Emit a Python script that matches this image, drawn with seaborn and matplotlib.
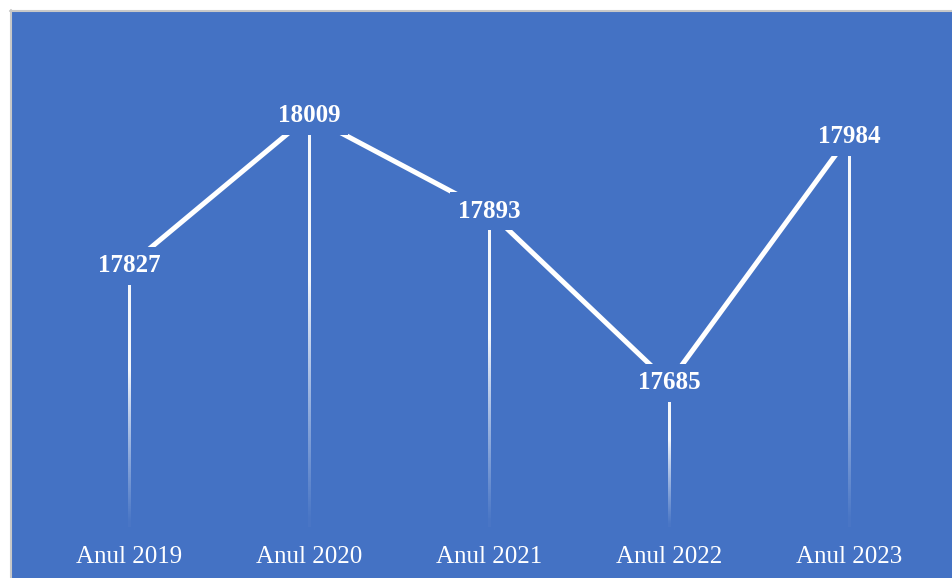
import numpy as np
import pandas as pd
import matplotlib.pyplot as plt
import seaborn as sns
from matplotlib.patches import Rectangle

# date
categories = ["Anul 2019", "Anul 2020", "Anul 2021", "Anul 2022", "Anul 2023"]
values = [17827, 18009, 17893, 17685, 17984]
y_min, y_max = 17500, 18100

blue = "#4472C4"
df = pd.DataFrame({"an": categories, "valoare": values})
df["pos"] = range(len(df))

sns.set_style("white")
plt.rcParams["font.family"] = ["Liberation Serif", "DejaVu Serif"]

fig = plt.figure(figsize=(9.53, 5.78), dpi=100)
fig.patch.set_facecolor("white")

# fundal albastru cu chenar gri sus/stanga
fig.patches.append(Rectangle((11 / 953, 0), 1, 1 - 11 / 578, transform=fig.transFigure,
                             facecolor=blue, edgecolor="none", zorder=-10))
fig.lines.append(plt.Line2D([10 / 953, 1], [1 - 10.5 / 578, 1 - 10.5 / 578],
                            transform=fig.transFigure, color="#c8c8c8", lw=1.5, zorder=-9))
fig.lines.append(plt.Line2D([10.5 / 953, 10.5 / 953], [0, 1 - 10 / 578],
                            transform=fig.transFigure, color="#c8c8c8", lw=1.5, zorder=-9))

ax = fig.add_axes([39 / 953, 43 / 578, 900 / 953, 494 / 578])
ax.set_zorder(1)
ax.set_facecolor("none")
ax.patch.set_alpha(0)

# linii verticale cu degrade (alb -> transparent)
n = 200
frac = np.linspace(0, 1, n)  # 0 = sus, 1 = jos
alpha = 1.0 - np.clip((frac - 0.4) / 0.6, 0, 1) ** 0.9
alpha = np.clip(alpha, 0.03, 1) * 0.95
grad = np.ones((n, 1, 4))
grad[:, 0, 3] = alpha
half_w = 1.1 / 180
for x, v in zip(df["pos"], df["valoare"]):
    ax.imshow(grad, extent=[x - half_w, x + half_w, y_min + 10, v], origin="upper",
              aspect="auto", interpolation="bilinear", zorder=2)

sns.lineplot(data=df, x="pos", y="valoare", ax=ax, color="white", linewidth=3.6,
             marker=None, zorder=3)

for x, v in zip(df["pos"], df["valoare"]):
    ax.text(x, v, str(v), ha="center", va="center", color="white", fontsize=18,
            fontweight="bold", zorder=5,
            bbox=dict(boxstyle="square,pad=0.3", facecolor=blue, edgecolor="none"))

ax.set_xlim(-0.5, len(categories) - 0.5)
ax.set_ylim(y_min, y_max)
ax.set_xticks(df["pos"])
ax.set_xticklabels(categories, color="white", fontsize=18)
ax.tick_params(axis="x", length=0, pad=8)
ax.set_yticks([])
ax.set_xlabel("")
ax.set_ylabel("")
sns.despine(ax=ax, left=True, bottom=True)

plt.savefig("out.png", dpi=100)
